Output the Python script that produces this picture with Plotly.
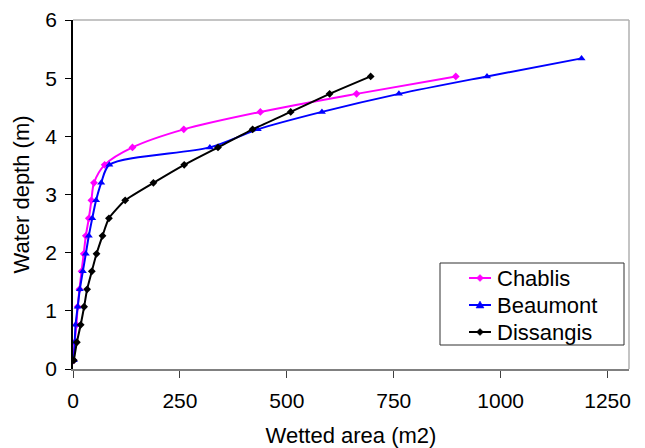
import plotly.graph_objects as go

# Water depth (m) at each survey step
depth_17 = [0.15, 0.46, 0.76, 1.07, 1.37, 1.68, 1.98, 2.29, 2.59, 2.90,
            3.20, 3.51, 3.81, 4.12, 4.42, 4.73, 5.03]
depth_18 = depth_17 + [5.34]

# Wetted area (m2) per site
chablis_area = [1, 4, 8, 11, 15, 20, 25, 30, 37, 43,
                49, 74, 139, 259, 438, 663, 895]
beaumont_area = [2, 4, 6, 11, 16, 23, 30, 37, 45, 54,
                 66, 85, 320, 432, 582, 762, 968, 1189]
dissangis_area = [2, 9, 18, 26, 33, 44, 55, 69, 84, 122,
                  188, 260, 339, 420, 509, 600, 696]

site_names = ["Chablis", "Beaumont", "Dissangis"]
site_colors = ["#FF00FF", "#0000FF", "#000000"]

x_ticks = [0, 250, 500, 750, 1000, 1250]
y_ticks = [0, 1, 2, 3, 4, 5, 6]

FONT = "Liberation Sans, Arial, sans-serif"

W, H = 645, 448
ML, MR, MT, MB = 73, 16, 20, 79
PW, PH = W - ML - MR, H - MT - MB


def px_x(px):
    return (px - ML) / PW


def px_y(py):
    return (H - MB - py) / PH


fig = go.Figure()
fig.add_trace(go.Scatter(
    x=chablis_area, y=depth_17, name=site_names[0], mode="lines+markers",
    line=dict(color=site_colors[0], width=2, shape="spline", smoothing=0.8),
    marker=dict(symbol="diamond", size=6, color=site_colors[0]),
))
fig.add_trace(go.Scatter(
    x=beaumont_area, y=depth_18, name=site_names[1], mode="lines+markers",
    line=dict(color=site_colors[1], width=2, shape="spline", smoothing=0.8),
    marker=dict(symbol="triangle-up", size=7, color=site_colors[1]),
))
fig.add_trace(go.Scatter(
    x=dissangis_area, y=depth_17, name=site_names[2], mode="lines+markers",
    line=dict(color=site_colors[2], width=2, shape="spline", smoothing=0.5),
    marker=dict(symbol="diamond", size=6, color=site_colors[2]),
))

# plot-area frame on the top and right sides
fig.add_shape(type="line", xref="paper", yref="paper", x0=0, x1=1, y0=1, y1=1,
              line=dict(color="#B0B0B0", width=1.5))
fig.add_shape(type="line", xref="paper", yref="paper", x0=1, x1=1, y0=0, y1=1,
              line=dict(color="#B0B0B0", width=1.5))

# legend box with compact rows
fig.add_shape(type="rect", xref="paper", yref="paper",
              x0=px_x(440), x1=px_x(624), y0=px_y(345), y1=px_y(263),
              line=dict(color="#303030", width=1), fillcolor="white", layer="above")
row_y = [278, 305, 332]
glyph_paths = [
    "M 0,3.5 L 3.5,0 L 0,-3.5 L -3.5,0 Z",
    "M -4,-3 L 4,-3 L 0,4 Z",
    "M 0,3.5 L 3.5,0 L 0,-3.5 L -3.5,0 Z",
]
for name, color, ry, gp in zip(site_names, site_colors, row_y, glyph_paths):
    fig.add_shape(type="line", xref="paper", yref="paper",
                  x0=px_x(469), x1=px_x(491), y0=px_y(ry), y1=px_y(ry),
                  line=dict(color=color, width=2), layer="above")
    fig.add_shape(type="path", xref="paper", yref="paper",
                  xsizemode="pixel", ysizemode="pixel",
                  xanchor=px_x(480), yanchor=px_y(ry), path=gp,
                  fillcolor=color, line=dict(color=color, width=0.5), layer="above")
    fig.add_annotation(xref="paper", yref="paper", x=px_x(495), y=px_y(ry),
                       xanchor="left", yanchor="middle", showarrow=False,
                       text=name, font=dict(family=FONT, size=22, color="black"))

fig.update_layout(
    width=W, height=H,
    margin=dict(l=ML, r=MR, t=MT, b=MB),
    paper_bgcolor="white", plot_bgcolor="white",
    font=dict(family=FONT, size=21, color="black"),
    showlegend=False,
    xaxis=dict(
        range=[0, 1300], tickvals=x_ticks, ticktext=[str(v) for v in x_ticks],
        showgrid=False, zeroline=False, showline=True, linecolor="#808080",
        linewidth=1.5, ticks="outside", ticklen=7, tickcolor="#404040",
        ticklabelstandoff=5, tickfont=dict(size=21), automargin=False,
        title=dict(text="Wetted area (m2)", standoff=18, font=dict(size=22)),
    ),
    yaxis=dict(
        range=[0, 6], tickvals=y_ticks, ticktext=[str(v) for v in y_ticks],
        showgrid=False, zeroline=False, showline=True, linecolor="black",
        linewidth=1.5, ticks="outside", ticklen=6, tickcolor="black",
        ticklabelstandoff=4, tickfont=dict(size=21), automargin=False,
        title=dict(text="Water depth (m)", standoff=10, font=dict(size=22)),
    ),
)

fig.write_html("out.html")
